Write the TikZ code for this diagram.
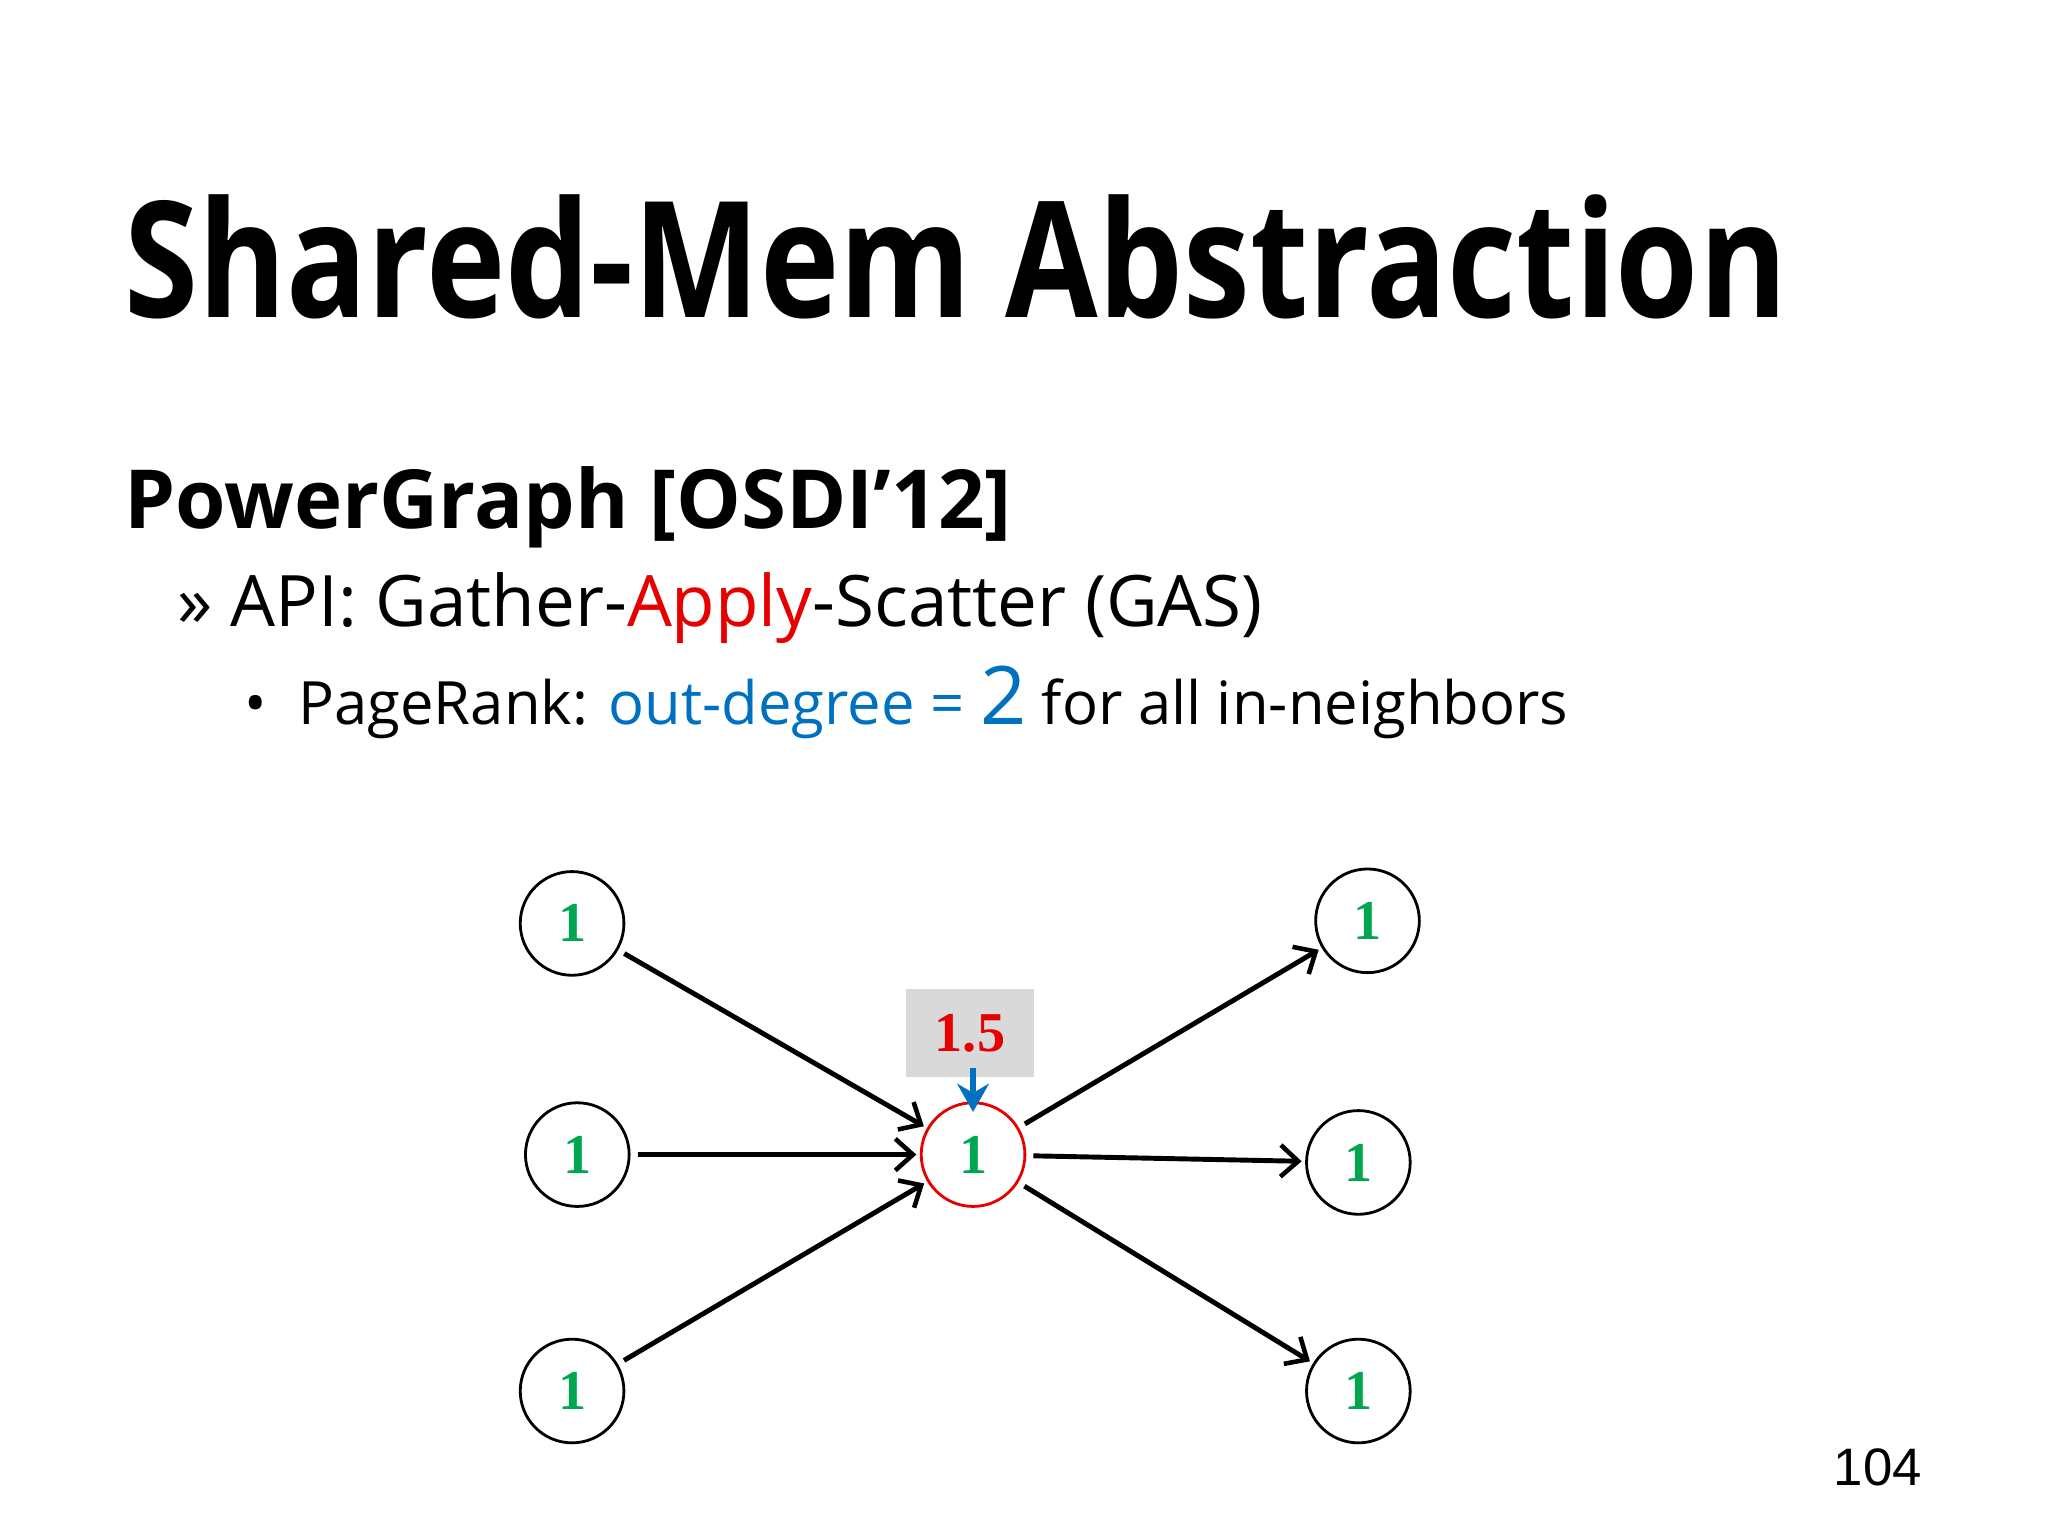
\documentclass[tikz,border=0pt]{standalone}
\usepackage{fontspec}
\setmainfont{Open Sans}
\newfontfamily\serifb{Liberation Serif}
\newfontfamily\arialf{Liberation Sans}
\usetikzlibrary{arrows.meta}
\definecolor{ngreen}{RGB}{0,166,80}
\definecolor{nblue}{RGB}{0,112,192}
\definecolor{nred}{RGB}{230,0,0}
\tikzset{
 vtx/.style={circle,draw,line width=0.8pt,minimum size=29.5pt,inner sep=0pt,font=\serifb\fontsize{16}{16}\selectfont\bfseries,text=ngreen},
 edge/.style={line width=1.4pt,-{Straight Barb[length=5pt,width=9pt,line width=1.3pt]},shorten >=1pt,shorten <=2pt}
}
\begin{document}
\begin{tikzpicture}[x=0.013061cm,y=-0.013061cm]
\useasboundingbox (0,0) rectangle (1568,1176);
\node[anchor=base west,inner sep=0pt,font=\fontsize{46}{46}\selectfont\bfseries] (title) at (95,243) {\scalebox{0.83}[1]{Shared-Mem Abstraction}};
\node[anchor=base west,inner sep=0pt,font=\fontsize{23.2}{24}\selectfont\bfseries] (sub) at (95,405) {PowerGraph [OSDI’12]};
\node[anchor=base west,inner sep=0pt,font=\fontsize{20.2}{21}\selectfont] (api) at (135,480) {»\ API: Gather-\textcolor{nred}{Apply}-Scatter (GAS)};
\node[anchor=base west,inner sep=0pt,font=\fontsize{17}{18}\selectfont] (pr) at (187,555) {•\ \ PageRank: \textcolor{nblue}{out-degree = {\fontsize{23}{23}\selectfont 2}} for all in-neighbors};
\node[vtx] (l1) at (438,707) {1};
\node[vtx] (l2) at (442,884) {1};
\node[vtx] (l3) at (438,1065) {1};
\node[vtx,draw=nred] (c) at (745,884) {1};
\node[vtx] (r1) at (1047,705) {1};
\node[vtx] (r2) at (1040,890) {1};
\node[vtx] (r3) at (1040,1065) {1};
\node[fill=black!15,minimum width=36.5pt,minimum height=25pt,inner sep=0pt,text=nred,font=\serifb\fontsize{16}{16}\selectfont\bfseries,anchor=north west] (box) at (693,757) {\raisebox{-2pt}{1.5}};
\coordinate (bt) at (745,818);
\draw[nblue,line width=1.8pt,-{Stealth[length=8pt,width=9pt]}] (bt) -- ([yshift=-3pt]c.north);
\draw[edge] (l1) -- (c);
\draw[edge] (l2) -- (c);
\draw[edge] (l3) -- (c);
\draw[edge] (c) -- (r1);
\draw[edge] (c) -- (r2);
\draw[edge] (c) -- (r3);
\node[anchor=base east,inner sep=0pt,font=\arialf\fontsize{15}{15}\selectfont] (pg) at (1472,1137) {104};
\end{tikzpicture}
\end{document}
